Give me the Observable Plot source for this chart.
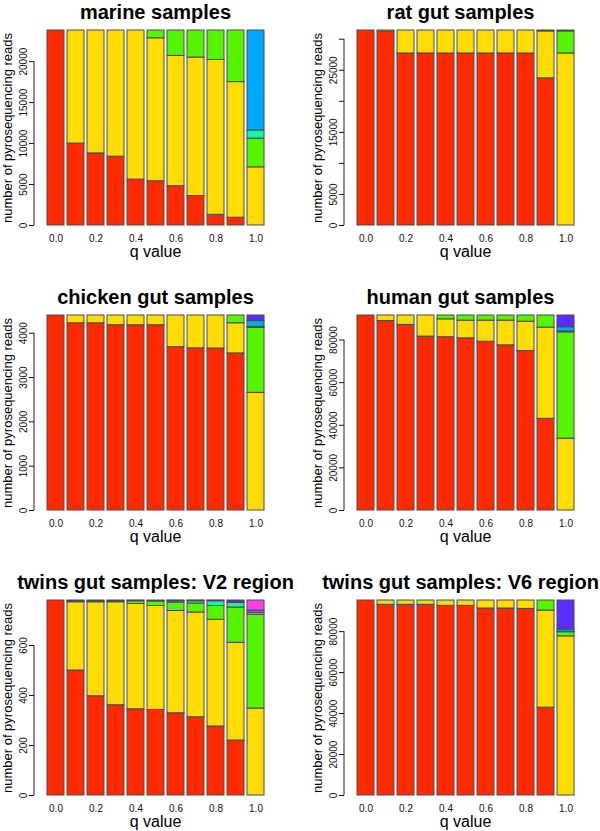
<!DOCTYPE html>
<html><head><meta charset="utf-8">
<script src="https://cdn.jsdelivr.net/npm/d3@7"></script>
<script src="https://cdn.jsdelivr.net/npm/@observablehq/plot@0.6"></script>
<style>
body{margin:0;width:600px;height:831px;overflow:hidden;background:#fff;position:relative;font-family:"Liberation Sans",Arial,sans-serif;}
.panel{position:absolute;width:300px;height:285px;}
</style></head><body>
<script>
const qValues = ["0.0","0.1","0.2","0.3","0.4","0.5","0.6","0.7","0.8","0.9","1.0"];
const qLabels = ["0.0","0.2","0.4","0.6","0.8","1.0"];
const layers = ["cluster 1","cluster 2","cluster 3","cluster 4","cluster 5","cluster 6","cluster 7"];
const layerColors = ["#FF2A00","#FFDD00","#55F500","#10F5A8","#00A8FF","#5A2EFF","#FF40E0"];

// marine samples
const marineRed    = [23800, 10000, 8800, 8400, 5600, 5400, 4800, 3600, 1300, 950, 0];
const marineYellow = [0, 13800, 15000, 15400, 18200, 17450, 15900, 16900, 18900, 16550, 7100];
const marineGreen  = [0, 0, 0, 0, 0, 950, 3100, 3300, 3600, 6300, 3500];
const marineAqua   = [0, 0, 0, 0, 0, 0, 0, 0, 0, 0, 1000];
const marineBlue   = [0, 0, 0, 0, 0, 0, 0, 0, 0, 0, 12200];
const marineTicks  = [0, 5000, 10000, 15000, 20000];
const marineTickLabels = [0, 5000, 10000, 15000, 20000];

// rat gut samples
const ratRed    = [31400, 31200, 27700, 27700, 27700, 27700, 27700, 27700, 27700, 23700, 0];
const ratYellow = [0, 200, 3700, 3700, 3700, 3700, 3700, 3700, 3700, 7550, 27700];
const ratGreen  = [0, 0, 0, 0, 0, 0, 0, 0, 0, 150, 3550];
const ratAqua   = [0, 0, 0, 0, 0, 0, 0, 0, 0, 0, 150];
const ratTicks  = [0, 5000, 10000, 15000, 20000, 25000, 30000];
const ratTickLabels = [0, 5000, 15000, 25000];

// chicken gut samples
const chickenRed    = [4400, 4225, 4225, 4180, 4180, 4180, 3685, 3660, 3655, 3545, 0];
const chickenYellow = [0, 175, 175, 220, 220, 220, 715, 740, 745, 680, 2655];
const chickenGreen  = [0, 0, 0, 0, 0, 0, 0, 0, 0, 175, 1465];
const chickenAqua   = [0, 0, 0, 0, 0, 0, 0, 0, 0, 0, 20];
const chickenBlue   = [0, 0, 0, 0, 0, 0, 0, 0, 0, 0, 135];
const chickenPurple = [0, 0, 0, 0, 0, 0, 0, 0, 0, 0, 125];
const chickenTicks  = [0, 1000, 2000, 3000, 4000];
const chickenTickLabels = [0, 1000, 2000, 3000, 4000];

// human gut samples
const humanRed    = [91500, 88900, 87100, 81600, 81300, 80800, 79200, 77500, 74800, 43000, 0];
const humanYellow = [0, 2600, 4400, 9900, 8400, 8300, 9900, 11600, 13800, 42800, 33700];
const humanGreen  = [0, 0, 0, 0, 1800, 2400, 2400, 2400, 2900, 5700, 49900];
const humanAqua   = [0, 0, 0, 0, 0, 0, 0, 0, 0, 0, 400];
const humanBlue   = [0, 0, 0, 0, 0, 0, 0, 0, 0, 0, 2000];
const humanPurple = [0, 0, 0, 0, 0, 0, 0, 0, 0, 0, 5500];
const humanTicks  = [0, 20000, 40000, 60000, 80000];
const humanTickLabels = [0, 20000, 40000, 60000, 80000];

// twins gut samples: V2 region
const v2Red     = [780, 500, 397, 361, 345, 342, 329, 313, 276, 220, 0];
const v2Yellow  = [0, 273, 376, 412, 421, 416, 409, 419, 427, 391, 348];
const v2Green   = [0, 3, 1, 1, 11, 18, 34, 36, 55, 141, 375];
const v2Aqua    = [0, 0, 0, 0, 0, 0, 5, 9, 19, 18, 8];
const v2Blue    = [0, 2, 3, 3, 2, 2, 2, 2, 2, 3, 9];
const v2Purple  = [0, 2, 3, 3, 1, 2, 1, 1, 1, 7, 0];
const v2Magenta = [0, 0, 0, 0, 0, 0, 0, 0, 0, 0, 40];
const v2Ticks   = [0, 200, 400, 600];
const v2TickLabels = [0, 200, 400, 600];

// twins gut samples: V6 region
const v6Red    = [95200, 93100, 93100, 93100, 92600, 92600, 91300, 91300, 91100, 42900, 0];
const v6Yellow = [0, 2100, 2100, 2100, 2600, 2600, 3900, 3900, 4100, 47400, 77700];
const v6Green  = [0, 0, 0, 0, 0, 0, 0, 0, 0, 4900, 2000];
const v6Aqua   = [0, 0, 0, 0, 0, 0, 0, 0, 0, 0, 200];
const v6Blue   = [0, 0, 0, 0, 0, 0, 0, 0, 0, 0, 1100];
const v6Purple = [0, 0, 0, 0, 0, 0, 0, 0, 0, 0, 14200];
const v6Ticks  = [0, 20000, 40000, 60000, 80000];
const v6TickLabels = [0, 20000, 40000, 60000, 80000];

const panels = [
  {title: "marine samples", series: [marineRed, marineYellow, marineGreen, marineAqua, marineBlue], ticks: marineTicks, labels: marineTickLabels, col: 0, row: 0},
  {title: "rat gut samples", series: [ratRed, ratYellow, ratGreen, ratAqua], ticks: ratTicks, labels: ratTickLabels, col: 1, row: 0},
  {title: "chicken gut samples", series: [chickenRed, chickenYellow, chickenGreen, chickenAqua, chickenBlue, chickenPurple], ticks: chickenTicks, labels: chickenTickLabels, col: 0, row: 1},
  {title: "human gut samples", series: [humanRed, humanYellow, humanGreen, humanAqua, humanBlue, humanPurple], ticks: humanTicks, labels: humanTickLabels, col: 1, row: 1},
  {title: "twins gut samples: V2 region", series: [v2Red, v2Yellow, v2Green, v2Aqua, v2Blue, v2Purple, v2Magenta], ticks: v2Ticks, labels: v2TickLabels, col: 0, row: 2},
  {title: "twins gut samples: V6 region", series: [v6Red, v6Yellow, v6Green, v6Aqua, v6Blue, v6Purple], ticks: v6Ticks, labels: v6TickLabels, col: 1, row: 2}
];

for (const p of panels) {
  const rows = [];
  p.series.forEach((arr, li) => arr.forEach((v, qi) => {
    if (v > 0) rows.push({q: qValues[qi], layer: layers[li], value: v});
  }));
  const total = d3.max(qValues, (q, qi) => d3.sum(p.series, a => a[qi]));
  const lastTick = p.ticks[p.ticks.length - 1];
  const axisLine = (index, scales, values, dims) => {
    const line = d3.create("svg:line")
      .attr("x1", dims.marginLeft).attr("x2", dims.marginLeft)
      .attr("y1", scales.y(0)).attr("y2", scales.y(lastTick))
      .attr("stroke", "#222").attr("stroke-width", 1);
    return line.node();
  };
  const titleShift = p.col === 1 ? -5 : 0;
  const chart = Plot.plot({
    width: 300, height: 285,
    marginLeft: 34, marginRight: 24, marginTop: 30, marginBottom: 60,
    style: {fontFamily: '"Liberation Sans", Arial, sans-serif', fontSize: "10px", color: "#111", background: "transparent", overflow: "visible"},
    x: {domain: qValues, range: [43, 267], paddingInner: 0.17, paddingOuter: 0, align: 0.5},
    y: {domain: [0, total]},
    color: {type: "ordinal", domain: layers, range: layerColors},
    marks: [
      Plot.barY(rows, {x: "q", y: "value", fill: "layer", z: "layer", order: layers, stroke: "#4a4a4a", strokeWidth: 1}),
      Plot.axisX({tickSize: 0, tickPadding: 9, tickFormat: d => qLabels.includes(d) ? d : "", label: null, fontSize: 10}),
      Plot.axisY({ticks: p.ticks, tickSize: 5, tickPadding: 3, tickRotate: -90, tickFormat: d => p.labels.includes(d) ? String(d) : "", label: null, fontSize: 10}),
      axisLine,
      Plot.text([p.title], {text: d => d, frameAnchor: "top", textAnchor: "middle", dx: titleShift, dy: -11.8, lineAnchor: "bottom", fontSize: 20, fontWeight: "bold", fill: "#000"}),
      Plot.text(["number of pyrosequencing reads"], {text: d => d, frameAnchor: "left", textAnchor: "middle", dx: -27, rotate: -90, fontSize: 13, fill: "#000"}),
      Plot.text(["q value"], {text: d => d, frameAnchor: "bottom", textAnchor: "middle", dy: 31, lineAnchor: "bottom", fontSize: 16, fill: "#000"})
    ]
  });
  const div = document.createElement("div");
  div.className = "panel";
  div.style.left = (p.col === 0 ? 0 : 310) + "px";
  div.style.top = (p.row * 285) + "px";
  div.appendChild(chart);
  document.body.appendChild(div);
}
</script>
</body></html>
